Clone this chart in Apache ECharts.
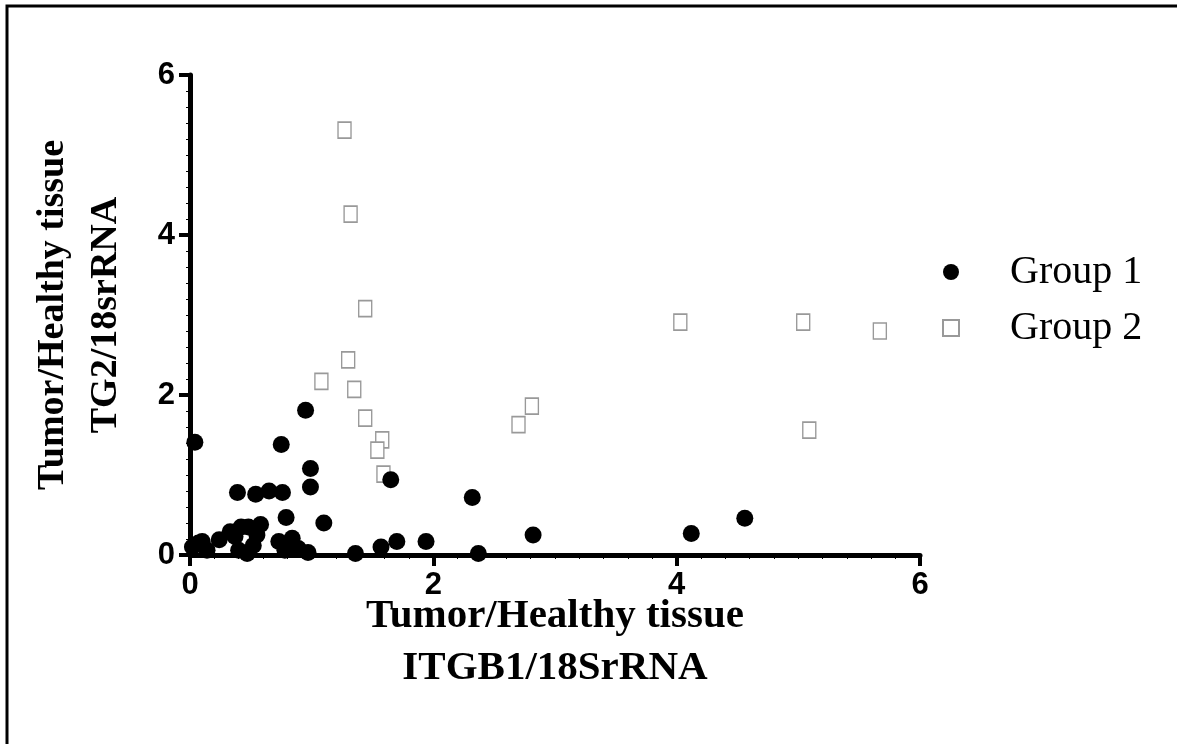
<!DOCTYPE html>
<html>
<head>
<meta charset="utf-8">
<script src="https://cdn.jsdelivr.net/npm/echarts@6/dist/echarts.min.js"></script>
<style>
html, body { margin: 0; padding: 0; background: #fff; }
#main { width: 1177px; height: 744px; }
</style>
</head>
<body>
<div id="main"></div>
<script>
// Group 1 (filled circles): [ITGB1, TG2]
var group1 = [
	[0.04, 1.41], [0.75, 1.38], [0.95, 1.81], [0.99, 1.08], [0.99, 0.85],
	[1.65, 0.94], [0.39, 0.78], [0.54, 0.76], [0.65, 0.80], [0.76, 0.78],
	[0.79, 0.47], [1.10, 0.40], [1.70, 0.17], [1.94, 0.17], [1.57, 0.10],
	[1.36, 0.02], [0.97, 0.03], [0.73, 0.17], [0.84, 0.21], [0.78, 0.06],
	[0.89, 0.08], [0.24, 0.19], [0.33, 0.29], [0.58, 0.38], [0.42, 0.35],
	[0.48, 0.35], [0.55, 0.25], [0.37, 0.23], [0.47, 0.02], [0.40, 0.06],
	[0.52, 0.12], [0.10, 0.17], [0.14, 0.06], [0.02, 0.10], [0.07, 0.15],
	[2.32, 0.72], [2.37, 0.02], [2.82, 0.25], [4.12, 0.27], [4.56, 0.46]
];
// Group 2 (open squares)
var group2 = [
	[1.27, 5.31], [1.32, 4.26], [1.44, 3.08], [1.30, 2.44], [1.08, 2.17],
	[1.35, 2.07], [1.44, 1.71], [1.58, 1.44], [1.54, 1.31], [1.59, 1.01],
	[2.81, 1.86], [2.70, 1.63], [4.03, 2.91], [5.04, 2.91], [5.67, 2.80],
	[5.09, 1.56]
];
var seriesNames = ['Group 1', 'Group 2'];
var xTitle = 'Tumor/Healthy tissue\nITGB1/18SrRNA';
var yTitle = 'Tumor/Healthy tissue\nTG2/18srRNA';

var chart = echarts.init(document.getElementById('main'));

var axisCommon = {
	min: 0,
	max: 6,
	interval: 2,
	splitLine: { show: false },
	axisLine: { show: true, lineStyle: { color: '#000', width: 5 } },
	axisTick: { show: true, length: 11, lineStyle: { color: '#000', width: 4 } },
	minorTick: { show: true, splitNumber: 10, length: 4, lineStyle: { color: '#000', width: 1 } },
	axisLabel: {
		color: '#000',
		fontFamily: 'Liberation Sans',
		fontWeight: 'bold',
		fontSize: 31,
		margin: 15
	},
	nameLocation: 'middle',
	nameMoveOverlap: false
};

var option = {
	backgroundColor: '#fff',
	animation: false,
	grid: { left: 190, right: 257, top: 75, bottom: 189, outerBoundsMode: 'none', containLabel: false },
	xAxis: Object.assign({}, axisCommon, {
		type: 'value',
		name: xTitle,
		nameGap: 35,
		nameTextStyle: {
			color: '#000',
			fontFamily: 'Liberation Serif',
			fontWeight: 'bold',
			fontSize: 41,
			lineHeight: 52
		}
	}),
	yAxis: Object.assign({}, axisCommon, {
		type: 'value',
		name: yTitle,
		nameGap: 57,
		nameRotate: 90,
		nameTextStyle: {
			color: '#000',
			fontFamily: 'Liberation Serif',
			fontWeight: 'bold',
			fontSize: 38,
			lineHeight: 53
		}
	}),
	legend: {
		orient: 'vertical',
		left: 937,
		top: 247,
		itemGap: 16,
		itemWidth: 16,
		itemHeight: 16,
		textStyle: {
			color: '#000',
			fontFamily: 'Liberation Serif',
			fontSize: 40,
			padding: [0, 0, 0, 46]
		},
		data: seriesNames
	},
	graphic: [{
		type: 'polyline',
		shape: { points: [[7, 744], [7, 6], [1177, 6]] },
		style: { stroke: '#000', lineWidth: 3, fill: null }
	}],
	series: [{
		name: seriesNames[0],
		type: 'scatter',
		symbol: 'circle',
		symbolSize: 17,
		itemStyle: { color: '#000', opacity: 1 },
		data: group1,
		z: 3
	}, {
		name: seriesNames[1],
		type: 'scatter',
		symbol: 'rect',
		symbolSize: [13, 16],
		itemStyle: { color: '#fff', borderColor: '#999', borderWidth: 1.5, opacity: 1 },
		data: group2,
		z: 2
	}]
};

chart.setOption(option);
</script>
</body>
</html>
